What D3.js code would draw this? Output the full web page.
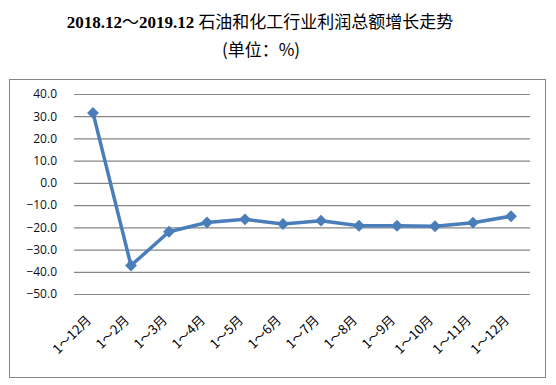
<!DOCTYPE html>
<html>
<head>
<meta charset="utf-8">
<script src="https://cdn.jsdelivr.net/npm/d3@7"></script>
<style>
  body { margin: 0; background: #fff; }
  svg { display: block; }
</style>
</head>
<body>
<div id="chart"></div>
<script>
const categories = ['1～12月', '1～2月', '1～3月', '1～4月', '1～5月', '1～6月', '1～7月', '1～8月', '1～9月', '1～10月', '1～11月', '1～12月'];
const values = [31.5, -37.2, -22.0, -17.8, -16.4, -18.5, -17.0, -19.3, -19.3, -19.5, -17.9, -15.0];
const yTicks = [40, 30, 20, 10, 0, -10, -20, -30, -40, -50];

const W = 556, H = 385;
const svg = d3.select('#chart').append('svg').attr('width', W).attr('height', H);

// title
const title = svg.append('text').attr('x', 260).attr('y', 28).attr('text-anchor', 'middle')
    .style('font-size', '17px').attr('fill', '#000');
title.append('tspan').style('font-family', '"Liberation Serif", serif').style('font-weight', 'bold').text('2018.12');
title.append('tspan').style('font-family', '"Noto Sans CJK SC", sans-serif').text('～');
title.append('tspan').style('font-family', '"Liberation Serif", serif').style('font-weight', 'bold').text('2019.12 ');
title.append('tspan').style('font-family', '"Noto Sans CJK SC", sans-serif').text('石油和化工行业利润总额增长走势');

svg.append('text').attr('x', 261).attr('y', 56).attr('text-anchor', 'middle')
    .style('font-family', '"Noto Sans CJK SC", sans-serif').style('font-size', '17px').text('(单位：%)');

// chart frame
svg.append('rect').attr('x', 9.5).attr('y', 79.5).attr('width', 536).attr('height', 298)
    .attr('fill', 'none').attr('stroke', '#868686').attr('stroke-width', 1);

const x = d3.scaleBand().domain(d3.range(categories.length)).range([74, 530]);
const y = d3.scaleLinear().domain([-50, 40]).range([294, 94]);

// gridlines + y labels
const yAxis = svg.append('g').attr('transform', 'translate(74,0)')
    .call(d3.axisLeft(y).tickValues(yTicks).tickSize(-456).tickPadding(17).tickFormat(d3.format('.1f')));
yAxis.select('.domain').remove();
yAxis.selectAll('.tick line').attr('stroke', '#868686').attr('stroke-width', 1.2);
yAxis.selectAll('.tick text').style('font-family', '"Open Sans", "Liberation Sans", sans-serif')
    .style('font-size', '12px').attr('fill', '#0d0d1a');

// x labels
svg.append('g').selectAll('text').data(categories).join('text')
    .attr('transform', (d, i) => `translate(${x(i) + x.bandwidth() / 2 - 1},${321}) rotate(-45)`)
    .attr('text-anchor', 'end')
    .style('font-family', '"Noto Sans CJK SC", sans-serif').style('font-size', '13px')
    .attr('fill', '#000').text(d => d);

// line
const cx = i => x(i) + x.bandwidth() / 2;
const line = d3.line().x((d, i) => cx(i)).y(d => y(d));
svg.append('path').datum(values).attr('fill', 'none').attr('stroke', '#4a7ebb')
    .attr('stroke-width', 3.5).attr('stroke-linejoin', 'round').attr('d', line);

svg.append('g').selectAll('path').data(values).join('path')
    .attr('transform', (d, i) => `translate(${cx(i)},${y(d)})`)
    .attr('d', d3.symbol(d3.symbolDiamond2, 90)())
    .attr('fill', '#4a7ebb');
</script>
</body>
</html>
